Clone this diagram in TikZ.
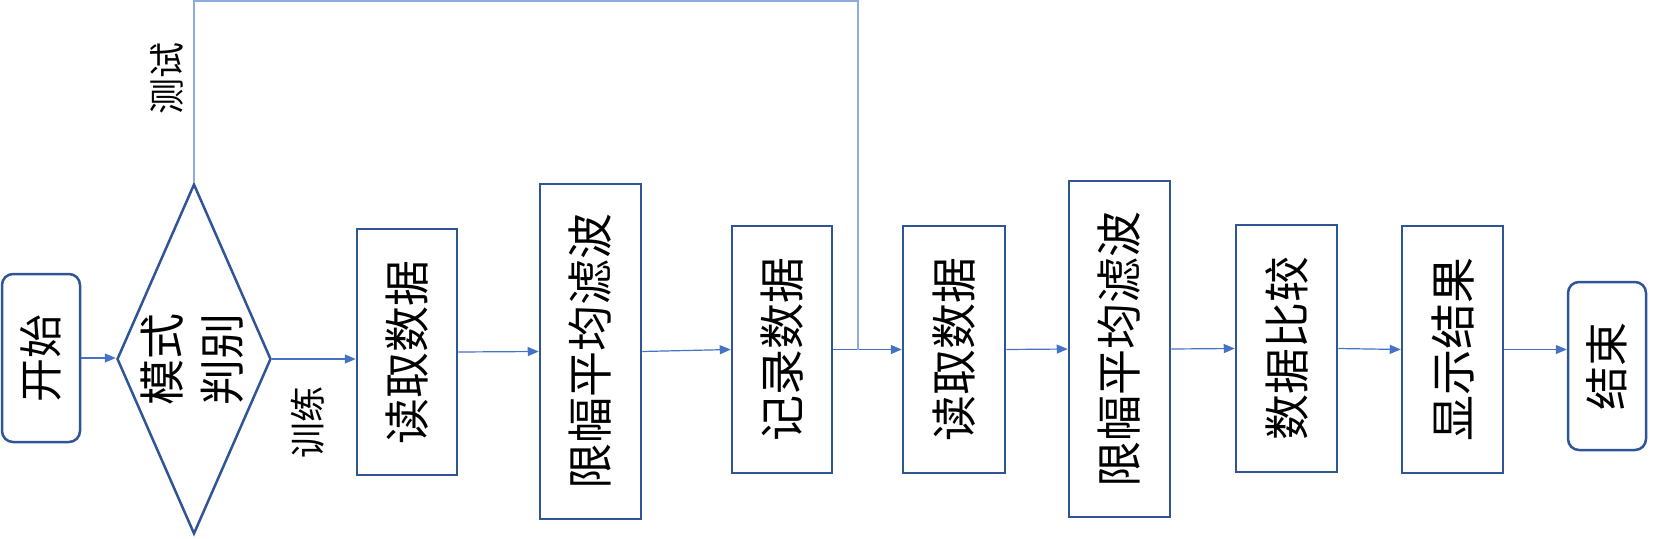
\documentclass[tikz,border=0pt]{standalone}
\usepackage{fontspec}
\usepackage{graphicx}
\newfontfamily\cjk{Noto Sans CJK SC}
\usetikzlibrary{shapes.geometric,arrows.meta}
\definecolor{boxblue}{HTML}{2F5597}
\definecolor{arrblue}{HTML}{4472C4}
\definecolor{loopblue}{HTML}{8FAADC}
\newcommand{\vt}[2][46]{\rotatebox{90}{\fontsize{#1}{60}\selectfont #2}}
\tikzset{
  stepbox/.style={draw=boxblue, line width=2.5pt, rectangle, inner sep=0pt, font=\cjk},
  termbox/.style={stepbox, rounded corners=11pt},
  decbox/.style={draw=boxblue, line width=2.5pt, diamond, inner sep=0pt, shape aspect=0.44},
  conn/.style={draw=arrblue, line width=1.2pt, -{Triangle[length=11pt,width=9pt]}, fill=none},
  lbl/.style={inner sep=0pt, font=\cjk}
}
\begin{document}
\begin{tikzpicture}[x=1pt,y=-1pt]
\useasboundingbox (0,0) rectangle (1667,538);
\node[termbox, minimum width=78pt, minimum height=168pt] (start) at (41,358) {\vt[44]{开始}};
\node[decbox, minimum width=154pt, minimum height=350pt] (dia) at (194,359) {};
\node[lbl] (dialbl) at (197,359) {\rotatebox{90}{\fontsize{46}{60}\selectfont\begin{tabular}{@{}c@{}}模式\\判别\end{tabular}}};
\node[stepbox, minimum width=100pt, minimum height=246pt] (read1) at (407,352) {\vt{读取数据}};
\node[stepbox, minimum width=101pt, minimum height=335pt] (filt1) at (590.5,351.5) {\vt{限幅平均滤波}};
\node[stepbox, minimum width=100pt, minimum height=247pt] (rec) at (782,349.5) {\vt{记录数据}};
\node[stepbox, minimum width=102pt, minimum height=247pt] (read2) at (954,349.5) {\vt{读取数据}};
\node[stepbox, minimum width=101pt, minimum height=336pt] (filt2) at (1119.5,349) {\vt{限幅平均滤波}};
\node[stepbox, minimum width=101pt, minimum height=247pt] (cmp) at (1286.5,348.5) {\vt{数据比较}};
\node[stepbox, minimum width=101pt, minimum height=247pt] (disp) at (1452.5,349.5) {\vt{显示结果}};
\node[termbox, minimum width=78pt, minimum height=168pt] (end) at (1607,366) {\vt[44]{结束}};
\node[lbl] (test) at (167,78) {\vt[36]{测试}};
\node[lbl] (train) at (308,422) {\vt[36]{训练}};
\coordinate (top) at (858,1);
\coordinate (jn) at (858,350);
\draw[conn] (start.east) -- (start.east -| dia.west);
\draw[conn] (dia.east) -- (dia.east -| read1.west);
\draw[conn] (read1.east) -- (filt1.west);
\draw[conn] (filt1.east) -- (rec.west);
\draw[conn] (rec.east) -- (read2.west);
\draw[conn] (read2.east) -- (filt2.west);
\draw[conn] (filt2.east) -- (cmp.west);
\draw[conn] (cmp.east) -- (disp.west);
\draw[conn] (disp.east) -- (disp.east -| end.west);
\draw[draw=loopblue, line width=1.2pt] (dia.north) |- (top) -- (jn);
\end{tikzpicture}
\end{document}
